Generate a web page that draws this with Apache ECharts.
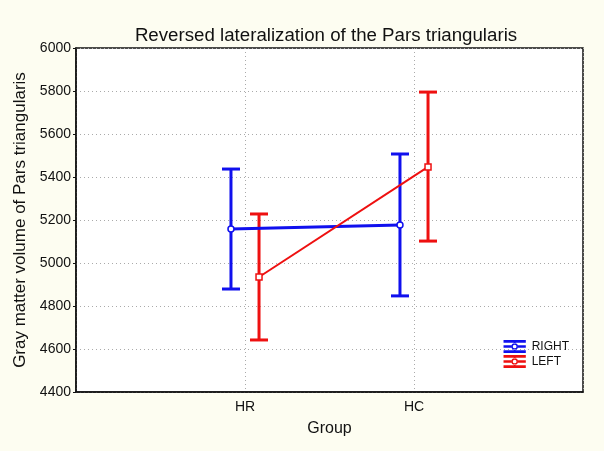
<!DOCTYPE html>
<html>
<head>
<meta charset="utf-8">
<script src="https://cdn.jsdelivr.net/npm/echarts@6/dist/echarts.min.js"></script>
<style>
html,body{margin:0;padding:0;background:#fdfdf1;}
#c{width:604px;height:451px;}
</style>
</head>
<body>
<div id="c"></div>
<script>
var categories = ['HR', 'HC'];
var rightMean = [5158, 5177];
var rightLow = [4879, 4847];
var rightHigh = [5437, 5507];
var leftMean = [4935, 5447];
var leftLow = [4642, 5102];
var leftHigh = [5228, 5795];
var yTicks = [4400, 4600, 4800, 5000, 5200, 5400, 5600, 5800, 6000];
var offset = 0.083;

function pts(means, shift) {
  return means.map(function (v, i) { return [i + 1 + shift, v]; });
}
function bars(lows, highs, shift) {
  return lows.map(function (v, i) { return [i + 1 + shift, v, highs[i]]; });
}
function errRender(color) {
  return function (params, api) {
    var x = api.value(0);
    var lo = api.coord([x, api.value(1)]);
    var hi = api.coord([x, api.value(2)]);
    var hw = 9;
    var st = { stroke: color, lineWidth: 3 };
    return {
      type: 'group',
      children: [
        { type: 'line', shape: { x1: lo[0], y1: lo[1], x2: hi[0], y2: hi[1] }, style: st },
        { type: 'line', shape: { x1: lo[0] - hw, y1: lo[1], x2: lo[0] + hw, y2: lo[1] }, style: st },
        { type: 'line', shape: { x1: hi[0] - hw, y1: hi[1], x2: hi[0] + hw, y2: hi[1] }, style: st }
      ]
    };
  };
}
var legendIcon = 'path://M0,0H24V3H0Z M0,11H24V14H0Z M11,3H13V4H11Z M11,10H13V11H11Z ' +
  'M0,5.6H8.6V8.4H0Z M15.4,5.6H24V8.4H15.4Z ' +
  'M8.5,7 A3.5,3.5 0 1 0 15.5,7 A3.5,3.5 0 1 0 8.5,7 Z ' +
  'M10,7 A2,2 0 1 1 14,7 A2,2 0 1 1 10,7 Z';

var chart = echarts.init(document.getElementById('c'));
chart.setOption({
  backgroundColor: '#fdfdf1',
  animation: false,
  textStyle: { fontFamily: 'Liberation Sans, Arial, sans-serif' },
  title: {
    text: 'Reversed lateralization of the Pars triangularis',
    left: 321, top: 21, textAlign: 'center',
    textStyle: { fontSize: 18.7, fontWeight: 'normal', color: '#111' }
  },
  legend: {
    orient: 'vertical',
    right: 30, top: 335,
    itemWidth: 24, itemHeight: 13, itemGap: 2,
    textStyle: { fontSize: 12, color: '#111' },
    data: [
      { name: 'RIGHT', icon: legendIcon, itemStyle: { color: '#1010ee' } },
      { name: 'LEFT', icon: legendIcon, itemStyle: { color: '#ee1010' } }
    ]
  },
  grid: { left: 76, right: 21, top: 48, bottom: 59, backgroundColor: '#ffffff', show: true, borderColor: '#111', borderWidth: 1.5 },
  xAxis: {
    type: 'value', min: 0, max: 3, interval: 1,
    name: 'Group', nameLocation: 'middle', nameGap: 29,
    nameTextStyle: { fontSize: 16, color: '#111' },
    axisLine: { show: true, lineStyle: { color: '#111', width: 1.5 } },
    axisTick: { show: false },
    axisLabel: {
      fontSize: 14, color: '#111', margin: 8,
      formatter: function (v) { return categories[v - 1] || ''; }
    },
    splitLine: {
      show: true,
      lineStyle: { type: [1, 3], color: '#aaa' }
    }
  },
  yAxis: {
    type: 'value', min: 4400, max: 6000, interval: 200,
    name: 'Gray matter volume of Pars triangularis', nameLocation: 'middle', nameGap: 47,
    nameTextStyle: { fontSize: 17, color: '#111' },
    axisLine: { show: true, lineStyle: { color: '#111', width: 1.5 } },
    axisTick: { show: true, length: 3, lineStyle: { color: '#111' } },
    axisLabel: { fontSize: 14, color: '#111', margin: 5,
      formatter: function (v) { return yTicks.indexOf(v) >= 0 ? String(v) : ''; } },
    splitLine: { show: true, lineStyle: { type: [1, 3], color: '#aaa' } }
  },
  series: [
    {
      name: 'RIGHT', type: 'custom', renderItem: errRender('#1010ee'),
      data: bars(rightLow, rightHigh, -offset), z: 2,
      itemStyle: { color: '#1010ee' }, encode: { x: 0, y: [1, 2] }
    },
    {
      name: 'LEFT', type: 'custom', renderItem: errRender('#ee1010'),
      data: bars(leftLow, leftHigh, offset), z: 2,
      itemStyle: { color: '#ee1010' }, encode: { x: 0, y: [1, 2] }
    },
    {
      name: 'RIGHT', type: 'line', data: pts(rightMean, -offset),
      symbol: 'circle', symbolSize: 6, z: 3,
      lineStyle: { color: '#1010ee', width: 3 },
      itemStyle: { color: '#ffffff', borderColor: '#1010ee', borderWidth: 1.5 }
    },
    {
      name: 'LEFT', type: 'line', data: pts(leftMean, offset),
      symbol: 'rect', symbolSize: 6, z: 3,
      lineStyle: { color: '#ee1010', width: 2 },
      itemStyle: { color: '#ffffff', borderColor: '#ee1010', borderWidth: 1.5 }
    }
  ]
});
</script>
</body>
</html>
